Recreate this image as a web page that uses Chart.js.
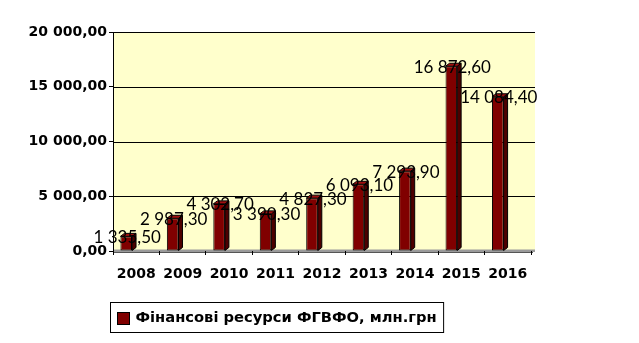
<!DOCTYPE html>
<html>
<head>
<meta charset="utf-8">
<script src="https://cdn.jsdelivr.net/npm/chart.js@4.4.1/dist/chart.umd.min.js"></script>
<style>
  html, body { margin: 0; padding: 0; background: #ffffff; }
  canvas { display: block; }
</style>
</head>
<body>
<canvas id="chart" width="639" height="343"></canvas>
<script>
// Фінансові ресурси ФГВФО, млн.грн
const years = ['2008', '2009', '2010', '2011', '2012', '2013', '2014', '2015', '2016'];
const resources = [1335.5, 2987.3, 4302.7, 3390.3, 4827.3, 6093.1, 7293.9, 16872.6, 14084.4];
const seriesName = 'Фінансові ресурси ФГВФО, млн.грн';
const yMin = 0;
const yMax = 20000;
const yStep = 5000;

// "16 872,60" style: space thousands separator, comma decimals
function formatUA(v) {
  const parts = Math.abs(v).toFixed(2).split('.');
  const intPart = parts[0].replace(/\B(?=(\d{3})+(?!\d))/g, ' ');
  return (v < 0 ? '-' : '') + intPart + ',' + parts[1];
}

const BAR_FRONT = '#800000';
const BAR_SIDE = '#4d0000';
const BAR_TOP = '#a01010';
const WALL = '#ffffcc';
const DEPTH_X = 4;      // 3D depth of walls and bars
const DEPTH_Y = -3;
const BAR_SHIFT = -10;  // bars sit toward the front of the floor

const tickFont = { family: '"DejaVu Sans", Verdana, sans-serif', size: 14, weight: 'bold' };
const valueFont = '17px Lato, "Liberation Sans", sans-serif';

// back wall, horizontal grid lines and the floor
const wallPlugin = {
  id: 'wall',
  beforeDraw(chart) {
    const { ctx, chartArea: a, scales } = chart;
    const y = scales.y;
    ctx.save();
    ctx.fillStyle = WALL;
    ctx.fillRect(a.left, a.top, a.right + DEPTH_X - a.left, a.bottom - a.top);
    ctx.strokeStyle = '#000000';
    ctx.lineWidth = 1;
    y.ticks.forEach(t => {
      if (t.value === yMin) return;
      const py = Math.round(y.getPixelForValue(t.value)) + 0.5;
      ctx.beginPath();
      ctx.moveTo(a.left, py);
      ctx.lineTo(a.right + DEPTH_X, py);
      ctx.stroke();
    });
    // floor
    const fy = y.getPixelForValue(yMin);
    ctx.fillStyle = '#9a9a9a';
    ctx.fillRect(a.left, fy - 1.5, a.right + DEPTH_X - a.left, 2.5);
    ctx.strokeStyle = '#555555';
    ctx.beginPath();
    ctx.moveTo(a.left, Math.round(fy) + 1.5);
    ctx.lineTo(a.right + DEPTH_X - 2, Math.round(fy) + 1.5);
    ctx.stroke();
    ctx.restore();
  }
};

// shift bars, add side/top faces, value labels
const barPlugin = {
  id: 'bars3d',
  beforeDatasetsDraw(chart) {
    chart.ctx.save();
    chart.ctx.translate(BAR_SHIFT, 0);
  },
  afterDatasetsDraw(chart) {
    const ctx = chart.ctx;
    const meta = chart.getDatasetMeta(0);
    meta.data.forEach(bar => {
      const { x, y, base, width } = bar.getProps(['x', 'y', 'base', 'width'], true);
      const l = x - width / 2, r = x + width / 2;
      ctx.lineWidth = 1;
      ctx.strokeStyle = '#000000';
      // side face
      ctx.fillStyle = BAR_SIDE;
      ctx.beginPath();
      ctx.moveTo(r, y);
      ctx.lineTo(r + DEPTH_X, y + DEPTH_Y);
      ctx.lineTo(r + DEPTH_X, base + DEPTH_Y);
      ctx.lineTo(r, base);
      ctx.closePath();
      ctx.fill();
      ctx.stroke();
      // top face
      ctx.fillStyle = BAR_TOP;
      ctx.beginPath();
      ctx.moveTo(l, y);
      ctx.lineTo(l + DEPTH_X, y + DEPTH_Y);
      ctx.lineTo(r + DEPTH_X, y + DEPTH_Y);
      ctx.lineTo(r, y);
      ctx.closePath();
      ctx.fill();
      ctx.stroke();
    });
    // value labels
    ctx.fillStyle = '#000000';
    ctx.font = valueFont;
    ctx.textAlign = 'center';
    ctx.textBaseline = 'middle';
    meta.data.forEach((bar, i) => {
      const { x, y } = bar.getProps(['x', 'y'], true);
      ctx.fillText(formatUA(resources[i]), x + 1, y + 1);
    });
    ctx.restore();
  }
};

// boxed legend under the plot
const legendPlugin = {
  id: 'boxLegend',
  afterDraw(chart) {
    const ctx = chart.ctx;
    const ds = chart.data.datasets[0];
    ctx.save();
    ctx.font = 'bold 14.7px "DejaVu Sans", Verdana, sans-serif';
    const textW = ctx.measureText(ds.label).width;
    const boxX = 110.5, boxY = 302.5, pad = 7, sw = 12;
    const boxW = pad + sw + 6 + textW + pad;
    const boxH = 30;
    ctx.fillStyle = '#ffffff';
    ctx.fillRect(boxX, boxY, boxW, boxH);
    ctx.strokeStyle = '#000000';
    ctx.lineWidth = 1;
    ctx.strokeRect(boxX, boxY, boxW, boxH);
    ctx.fillStyle = ds.backgroundColor;
    ctx.fillRect(boxX + pad, boxY + 10, sw, sw);
    ctx.strokeRect(boxX + pad, boxY + 10, sw, sw);
    ctx.fillStyle = '#000000';
    ctx.textBaseline = 'middle';
    ctx.textAlign = 'left';
    ctx.fillText(ds.label, boxX + pad + sw + 6, boxY + boxH / 2 + 1);
    ctx.restore();
  }
};

new Chart(document.getElementById('chart'), {
  type: 'bar',
  data: {
    labels: years,
    datasets: [{
      label: seriesName,
      data: resources,
      backgroundColor: BAR_FRONT,
      borderColor: '#000000',
      borderWidth: 1,
      borderSkipped: false,
      categoryPercentage: 1,
      barPercentage: 0.25
    }]
  },
  options: {
    responsive: false,
    animation: false,
    layout: { padding: { left: 0, right: 108, top: 32, bottom: 0 } },
    plugins: {
      legend: { display: false },
      tooltip: { enabled: false }
    },
    scales: {
      x: {
        offset: true,
        grid: { display: true, drawOnChartArea: false, drawTicks: true, tickLength: 4, color: '#000000', offset: true },
        border: { display: false },
        ticks: { color: '#000000', font: tickFont, padding: 11, maxRotation: 0 },
        afterFit(scale) { scale.height = 92; }
      },
      y: {
        min: yMin,
        max: yMax,
        grid: { display: true, drawOnChartArea: false, drawTicks: true, tickLength: 4, color: '#000000' },
        border: { display: true, color: '#000000', width: 1 },
        ticks: { stepSize: yStep, color: '#000000', font: tickFont, padding: 2, callback: v => formatUA(v) },
        afterFit(scale) { scale.width = 113; }
      }
    }
  },
  plugins: [wallPlugin, barPlugin, legendPlugin]
});
</script>
</body>
</html>
